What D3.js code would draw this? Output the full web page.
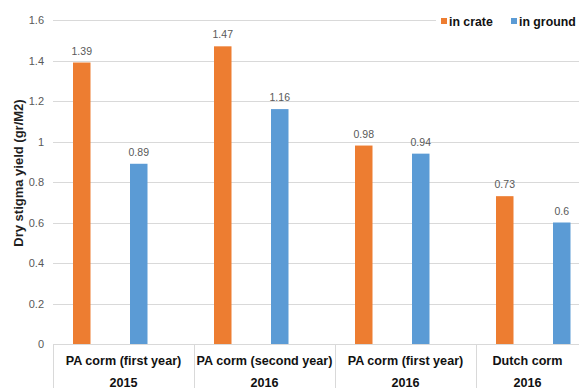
<!DOCTYPE html>
<html>
<head>
<meta charset="utf-8">
<script src="https://cdn.jsdelivr.net/npm/d3@7/dist/d3.min.js"></script>
<style>
  html, body { margin: 0; padding: 0; background: #fff; }
  svg { display: block; font-family: "Liberation Sans", Arial, sans-serif; }
</style>
</head>
<body>
<svg id="chart" width="579" height="388"></svg>
<script>
// Dry stigma yield per treatment, in crate vs. in ground
const categories = ["PA corm (first year)", "PA corm (second year)", "PA corm (first year)", "Dutch corm"];
const categoryIds = ["c1", "c2", "c3", "c4"];
const years = ["2015", "2016", "2016", "2016"];
const seriesNames = ["in crate", "in ground"];
const inCrate = [1.39, 1.47, 0.98, 0.73];
const inGround = [0.89, 1.16, 0.94, 0.6];
const yTicks = [0, 0.2, 0.4, 0.6, 0.8, 1, 1.2, 1.4, 1.6];
const colors = ["#ED7D31", "#5B9BD5"];

const W = 579, H = 388;
const svg = d3.select("#chart");

const x0 = d3.scaleBand().domain(categoryIds).range([53, 617]).padding(0);
const x1 = d3.scaleBand().domain(seriesNames).range([20, 94.5])
  .paddingInner(1 - 17.5 / 57).paddingOuter(0);
const y = d3.scaleLinear().domain([0, 1.6]).range([344, 20]);

// horizontal gridlines
svg.append("g").selectAll("line").data(yTicks.slice(1)).join("line")
  .attr("x1", 53).attr("x2", W)
  .attr("y1", d => Math.round(y(d)) + 0.5).attr("y2", d => Math.round(y(d)) + 0.5)
  .attr("stroke", "#d9d9d9").attr("stroke-width", 1);

// y axis tick labels
const yAxis = d3.axisLeft(y).tickValues(yTicks).tickSize(0).tickPadding(0)
  .tickFormat(d => d3.format("~g")(d));
const gy = svg.append("g").attr("transform", "translate(44,0)").call(yAxis);
gy.select(".domain").remove();
gy.selectAll("text").attr("fill", "#595959").attr("font-size", "11px")
  .attr("font-family", "Liberation Sans, Arial, sans-serif");

// y axis title
svg.append("text")
  .attr("transform", "translate(22.5,173) rotate(-90)")
  .attr("text-anchor", "middle")
  .attr("font-size", "13px").attr("font-weight", "bold").attr("fill", "#1f1f1f")
  .text("Dry stigma yield (gr/M2)");

// bars
const rows = categoryIds.map((id, i) => ({ id, values: [inCrate[i], inGround[i]] }));
const groups = svg.append("g").selectAll("g").data(rows).join("g")
  .attr("transform", d => `translate(${x0(d.id)},0)`);
groups.selectAll("rect").data(d => d.values.map((v, j) => ({ key: seriesNames[j], v, j })))
  .join("rect")
  .attr("x", d => x1(d.key)).attr("width", x1.bandwidth())
  .attr("y", d => y(d.v)).attr("height", d => y(0) - y(d.v))
  .attr("fill", d => colors[d.j]);
groups.selectAll("text").data(d => d.values.map((v, j) => ({ key: seriesNames[j], v, j })))
  .join("text")
  .attr("x", d => x1(d.key) + x1.bandwidth() / 2)
  .attr("y", d => y(d.v) - 8)
  .attr("text-anchor", "middle")
  .attr("font-size", "10.5px").attr("fill", "#595959")
  .text(d => d3.format("~g")(d.v));

// category axis: baseline, dividers, two-line labels
svg.append("line").attr("x1", 53).attr("x2", W).attr("y1", 344.5).attr("y2", 344.5)
  .attr("stroke", "#d9d9d9");
svg.append("g").selectAll("line").data(categoryIds).join("line")
  .attr("x1", d => Math.round(x0(d)) + 0.5).attr("x2", d => Math.round(x0(d)) + 0.5)
  .attr("y1", 344).attr("y2", H)
  .attr("stroke", "#d9d9d9");
const labelX = id => (x0(id) + Math.min(x0(id) + x0.bandwidth(), W)) / 2;
svg.append("g").selectAll("text").data(categoryIds).join("text")
  .attr("x", d => labelX(d)).attr("y", 364.5)
  .attr("text-anchor", "middle").attr("font-size", "12.6px").attr("font-weight", "bold")
  .attr("fill", "#111")
  .text((d, i) => categories[i]);
svg.append("g").selectAll("text").data(categoryIds).join("text")
  .attr("x", d => labelX(d)).attr("y", 386.5)
  .attr("text-anchor", "middle").attr("font-size", "12.6px").attr("font-weight", "bold")
  .attr("fill", "#111")
  .text((d, i) => years[i]);

// legend
const legendX = [441, 511];
svg.append("rect").attr("x", 436).attr("y", 10).attr("width", W - 436).attr("height", 22).attr("fill", "#fff");
const lg = svg.append("g").selectAll("g").data(seriesNames).join("g")
  .attr("transform", (d, i) => `translate(${legendX[i]},21)`);
lg.append("rect").attr("x", 0).attr("y", -3).attr("width", 6).attr("height", 6)
  .attr("fill", (d, i) => colors[i]);
lg.append("text").attr("x", 8).attr("y", 4.5)
  .attr("font-size", "12.3px").attr("font-weight", "bold").attr("fill", "#111")
  .text(d => d);
</script>
</body>
</html>
